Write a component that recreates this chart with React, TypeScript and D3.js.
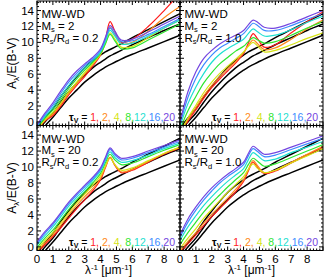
import React, { useRef, useEffect } from "react";
import * as d3 from "d3";

// sample positions (1/lambda, um^-1)
const xs = [0, 0.5, 1, 1.5, 2, 2.5, 3, 3.5, 4, 4.3, 4.6, 4.9, 5.3, 6, 7, 8, 9];

const tauV = ["1", "2", "4", "8", "12", "16", "20"];
const tauColors = ["#ff1a1a", "#ff8a1a", "#d6e414", "#2ee62e", "#1ee0d0", "#3c8cff", "#7446e0"];

const xTicks = [0, 1, 2, 3, 4, 5, 6, 7, 8];
const yTicks = [0, 2, 4, 6, 8, 10, 12, 14];

// black reference curves (same in every panel)
const black1 = [-0.8, 0.5, 1.7, 3.2, 4.5, 5.7, 6.8, 7.7, 8.4, 8.8, 9.1, 9.4, 9.8, 10.6, 11.6, 12.6, 13.6];
const black2 = [-1.2, 0.0, 1.1, 2.5, 3.8, 4.9, 5.9, 6.8, 7.5, 7.9, 8.3, 8.6, 9.0, 9.7, 10.6, 11.5, 12.3];
const black3 = [-1.6, -0.5, 0.6, 1.8, 3.0, 4.0, 5.0, 5.8, 6.5, 6.9, 7.2, 7.5, 7.9, 8.5, 9.3, 10.1, 10.9];

// M_s = 2, R_s/R_d = 0.2  (tau_V = 1 .. 20)
const ms2r02 = [
  [-1.2, 0.1, 0.8, 2.0, 3.4, 4.6, 5.7, 7.0, 8.4, 10.3, 12.6, 11.4, 10.0, 10.4, 12.0, 14.0, 16.2],
  [-1.1, 0.2, 1.0, 2.2, 3.6, 4.8, 6.0, 7.2, 8.5, 10.0, 11.9, 11.0, 9.8, 10.0, 11.4, 13.1, 14.5],
  [-1.0, 0.3, 1.2, 2.4, 3.8, 5.0, 6.2, 7.3, 8.5, 9.8, 11.2, 10.4, 9.4, 9.5, 10.6, 11.8, 12.8],
  [-0.8, 0.5, 1.5, 2.8, 4.2, 5.4, 6.5, 7.5, 8.6, 9.8, 11.0, 10.2, 9.2, 9.3, 10.3, 11.3, 12.3],
  [-0.6, 0.7, 1.8, 3.2, 4.6, 5.8, 6.8, 7.7, 8.8, 10.1, 11.5, 10.8, 9.8, 9.9, 10.8, 11.8, 12.8],
  [-0.5, 0.9, 2.1, 3.6, 5.0, 6.1, 7.1, 7.9, 9.0, 10.4, 11.8, 11.1, 10.1, 10.2, 11.0, 12.0, 13.0],
  [-0.4, 1.1, 2.4, 3.9, 5.3, 6.4, 7.3, 8.1, 9.2, 10.6, 12.1, 11.4, 10.3, 10.4, 11.3, 12.3, 13.3],
];

// M_s = 2, R_s/R_d = 1.0
const ms2r10 = [
  [-1.8, 0.1, 1.5, 3.0, 4.3, 5.4, 6.4, 7.4, 8.6, 9.9, 11.1, 10.4, 9.4, 9.7, 11.2, 12.6, 13.8],
  [-1.6, 0.3, 1.8, 3.3, 4.6, 5.7, 6.7, 7.6, 8.7, 9.6, 10.3, 9.8, 9.1, 9.3, 10.4, 11.7, 12.8],
  [-1.4, 0.5, 2.1, 3.7, 5.0, 6.1, 7.0, 7.9, 8.8, 9.5, 10.0, 9.5, 8.8, 9.0, 9.7, 10.5, 11.2],
  [-1.0, 1.4, 3.2, 4.9, 6.2, 7.3, 8.1, 8.9, 9.5, 10.1, 10.6, 10.3, 9.9, 10.1, 10.9, 11.8, 12.6],
  [-0.6, 2.3, 4.4, 6.1, 7.5, 8.5, 9.2, 9.8, 10.4, 11.1, 11.7, 11.3, 10.8, 10.9, 11.6, 12.5, 13.3],
  [-0.3, 3.1, 5.5, 7.2, 8.4, 9.3, 9.9, 10.5, 11.1, 11.8, 12.4, 12.1, 11.5, 11.5, 12.1, 12.9, 13.6],
  [0.0, 3.8, 6.3, 8.0, 9.0, 9.8, 10.4, 10.9, 11.5, 12.2, 12.8, 12.5, 11.9, 11.8, 12.4, 13.2, 14.0],
];

// M_s = 20, R_s/R_d = 0.2
const ms20r02 = [
  [-0.8, 0.3, 1.3, 2.4, 3.6, 4.8, 5.9, 7.0, 8.4, 9.9, 11.2, 10.2, 9.3, 9.6, 10.6, 11.6, 12.4],
  [-0.6, 0.5, 1.5, 2.7, 4.0, 5.2, 6.3, 7.3, 8.6, 10.0, 11.2, 10.3, 9.4, 9.7, 10.7, 11.7, 12.5],
  [-0.4, 0.8, 1.8, 3.0, 4.3, 5.5, 6.6, 7.7, 8.9, 10.1, 11.1, 10.3, 9.6, 9.9, 10.8, 11.7, 12.5],
  [-0.1, 1.1, 2.1, 3.4, 4.7, 5.9, 6.9, 8.0, 9.2, 10.5, 11.6, 10.9, 10.3, 10.5, 11.3, 12.1, 12.8],
  [0.2, 1.4, 2.5, 3.8, 5.1, 6.2, 7.2, 8.3, 9.5, 10.8, 11.9, 11.2, 10.6, 10.8, 11.5, 12.3, 13.0],
  [0.4, 1.7, 2.8, 4.1, 5.4, 6.5, 7.5, 8.5, 9.7, 11.0, 12.2, 11.5, 10.9, 11.1, 11.8, 12.5, 13.2],
  [0.6, 1.9, 3.0, 4.3, 5.6, 6.7, 7.7, 8.7, 9.9, 11.2, 12.4, 11.7, 11.1, 11.3, 12.0, 12.7, 13.4],
];

// M_s = 20, R_s/R_d = 1.0
const ms20r10 = [
  [-0.7, 0.4, 1.5, 2.7, 3.8, 4.8, 5.8, 6.9, 8.2, 9.5, 10.6, 9.9, 9.2, 9.5, 10.5, 11.5, 12.5],
  [-0.5, 0.7, 1.8, 3.0, 4.1, 5.1, 6.1, 7.2, 8.4, 9.7, 10.8, 10.1, 9.3, 9.6, 10.6, 11.6, 12.6],
  [-0.2, 1.1, 2.3, 3.6, 4.7, 5.8, 6.8, 7.8, 8.8, 9.7, 10.4, 9.8, 9.3, 9.6, 10.5, 11.4, 12.3],
  [0.3, 1.8, 3.1, 4.4, 5.5, 6.5, 7.5, 8.4, 9.3, 10.3, 11.1, 10.7, 10.1, 10.4, 11.2, 12.0, 12.8],
  [0.8, 2.5, 3.9, 5.2, 6.3, 7.3, 8.2, 9.0, 9.8, 10.9, 11.8, 11.4, 10.8, 11.0, 11.8, 12.5, 13.2],
  [1.2, 3.1, 4.6, 5.9, 7.0, 8.0, 8.8, 9.5, 10.3, 11.4, 12.3, 11.9, 11.3, 11.5, 12.2, 12.9, 13.6],
  [1.5, 3.5, 5.0, 6.3, 7.4, 8.3, 9.1, 9.8, 10.6, 11.7, 12.6, 12.2, 11.6, 11.8, 12.5, 13.2, 13.9],
];

const panels = [
  { col: 0, row: 0, ms: "2", rr: "0.2", curves: ms2r02 },
  { col: 1, row: 0, ms: "2", rr: "1.0", curves: ms2r10 },
  { col: 0, row: 1, ms: "20", rr: "0.2", curves: ms20r02 },
  { col: 1, row: 1, ms: "20", rr: "1.0", curves: ms20r10 },
];

const FONT = "'Liberation Sans', Arial, Helvetica, sans-serif";

const App = () => {
  const ref = useRef(null);

  useEffect(() => {
    const svg = d3.select(ref.current);
    svg.selectAll("*").remove();

    const left = 37,
      colW = 143,
      rowEdges = [1, 125.5, 250.5];

    panels.forEach((p, i) => {
      const x0 = left + p.col * colW,
        x1 = x0 + colW,
        y0 = rowEdges[p.row],
        y1 = rowEdges[p.row + 1];

      const x = d3.scaleLinear().domain([0, 9]).range([x0, x1]);
      const y = d3.scaleLinear().domain([-0.45, 15.2]).range([y1, y0]);

      const clipId = `clip${i}`;
      svg
        .append("clipPath")
        .attr("id", clipId)
        .append("rect")
        .attr("x", x0)
        .attr("y", y0)
        .attr("width", colW)
        .attr("height", y1 - y0);

      const line = d3
        .line()
        .x((d) => x(d[0]))
        .y((d) => y(d[1]))
        .curve(d3.curveCatmullRom.alpha(0.5));

      const g = svg.append("g").attr("clip-path", `url(#${clipId})`);

      [black1, black2, black3].forEach((vals) => {
        g.append("path")
          .datum(xs.map((v, k) => [v, vals[k]]))
          .attr("fill", "none")
          .attr("stroke", "#000")
          .attr("stroke-width", 1.5)
          .attr("d", line);
      });

      p.curves.forEach((vals, c) => {
        g.append("path")
          .datum(xs.map((v, k) => [v, vals[k]]))
          .attr("fill", "none")
          .attr("stroke", tauColors[c])
          .attr("stroke-width", 1.2)
          .attr("d", line);
      });

      // frame
      svg
        .append("rect")
        .attr("x", x0)
        .attr("y", y0)
        .attr("width", colW)
        .attr("height", y1 - y0)
        .attr("fill", "none")
        .attr("stroke", "#000")
        .attr("stroke-width", 1);

      // ticks, drawn inward on all four sides
      const ticks = svg.append("g").attr("stroke", "#000").attr("stroke-width", 1);
      d3.range(0, 9.01, 0.2).forEach((t) => {
        const major = Math.abs(t - Math.round(t)) < 1e-6;
        const len = major ? 4 : 2;
        const px = x(t);
        ticks.append("line").attr("x1", px).attr("x2", px).attr("y1", y1).attr("y2", y1 - len);
        ticks.append("line").attr("x1", px).attr("x2", px).attr("y1", y0).attr("y2", y0 + len);
      });
      d3.range(0, 15.01, 0.5).forEach((t) => {
        const major = Math.abs(t / 2 - Math.round(t / 2)) < 1e-6;
        const len = major ? 4 : 2;
        const py = y(t);
        ticks.append("line").attr("x1", x0).attr("x2", x0 + len).attr("y1", py).attr("y2", py);
        ticks.append("line").attr("x1", x1).attr("x2", x1 - len).attr("y1", py).attr("y2", py);
      });

      if (p.col === 0) {
        svg
          .append("g")
          .selectAll("text")
          .data(yTicks)
          .join("text")
          .attr("x", x0 - 3)
          .attr("y", (d) => y(d) + 4)
          .attr("text-anchor", "end")
          .attr("font-family", FONT)
          .attr("font-size", 11.5)
          .text((d) => d);
      }

      if (p.row === 1) {
        svg
          .append("g")
          .selectAll("text")
          .data(xTicks)
          .join("text")
          .attr("x", (d) => x(d))
          .attr("y", y1 + 12)
          .attr("text-anchor", "middle")
          .attr("font-family", FONT)
          .attr("font-size", 11.5)
          .text((d) => d);

        const xt = svg
          .append("text")
          .attr("x", (x0 + x1) / 2)
          .attr("y", 274)
          .attr("text-anchor", "middle")
          .attr("font-family", FONT)
          .attr("font-size", 12);
        xt.append("tspan").text("λ");
        xt.append("tspan").attr("dy", -4.5).attr("font-size", 8).text("-1");
        xt.append("tspan").attr("dy", 4.5).text(" [μm");
        xt.append("tspan").attr("dy", -4.5).attr("font-size", 8).text("-1");
        xt.append("tspan").attr("dy", 4.5).text("]");
      }

      // panel annotation
      const ann = svg.append("g").attr("font-family", FONT).attr("font-size", 11.5);
      ann.append("text").attr("x", x0 + 4.5).attr("y", y0 + 17).text("MW-WD");
      const m = ann.append("text").attr("x", x0 + 4.5).attr("y", y0 + 28.5);
      m.append("tspan").text("M");
      m.append("tspan").attr("dy", 2.5).attr("font-size", 7.5).text("s");
      m.append("tspan").attr("dy", -2.5).text(p.ms.length === 1 ? " =  " + p.ms : " = " + p.ms);
      const r = ann.append("text").attr("x", x0 + 4.5).attr("y", y0 + 40.5);
      r.append("tspan").text("R");
      r.append("tspan").attr("dy", 2.5).attr("font-size", 7.5).text("s");
      r.append("tspan").attr("dy", -2.5).text("/R");
      r.append("tspan").attr("dy", 2.5).attr("font-size", 7.5).text("d");
      r.append("tspan").attr("dy", -2.5).text(" = " + p.rr);

      // tau legend
      const lg = svg
        .append("text")
        .attr("x", x1 - 5)
        .attr("y", y1 - 5)
        .attr("text-anchor", "end")
        .attr("font-family", FONT)
        .attr("font-size", 10.5);
      lg.append("tspan").attr("font-weight", "bold").text("τ");
      lg.append("tspan").attr("dy", 2).attr("font-size", 7).attr("font-weight", "bold").text("V");
      lg.append("tspan").attr("dy", -2).text(" = ");
      tauV.forEach((t, k) => {
        const sep = k === tauV.length - 1 ? "" : k < 3 ? ", " : ",";
        lg.append("tspan").attr("fill", tauColors[k]).text(t + sep);
      });
    });

    // y axis titles
    [0, 1].forEach((row) => {
      const cy = (rowEdges[row] + rowEdges[row + 1]) / 2;
      const yt = svg
        .append("text")
        .attr("transform", `translate(16,${cy}) rotate(-90)`)
        .attr("text-anchor", "middle")
        .attr("font-family", FONT)
        .attr("font-size", 12);
      yt.append("tspan").text("A");
      yt.append("tspan").attr("dy", 3).attr("font-size", 8).text("λ");
      yt.append("tspan").attr("dy", -3).text("/E(B-V)");
    });
  }, []);

  return (
    <svg
      ref={ref}
      width={326}
      height={280}
      style={{ position: "absolute", left: 0, top: 0, background: "#fff" }}
    />
  );
};

export default App;
